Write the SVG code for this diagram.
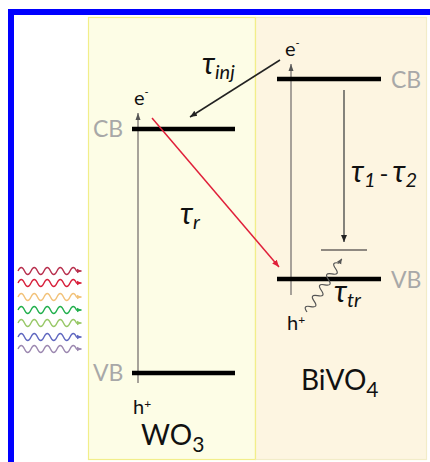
<svg xmlns="http://www.w3.org/2000/svg" width="430" height="462" viewBox="0 0 430 462">
<style>
text{font-family:Lato,"Open Sans","Liberation Sans",sans-serif}
.band{stroke:#000;stroke-width:4.5}
.axis{stroke:#8a8580;stroke-width:1.5;fill:none}
.gl{fill:#a8a8a8;font-size:23px}
.lbl{fill:#111;font-size:20px}
.tau{fill:#111;font-size:30px;font-style:italic}
.sub{font-size:20px;font-style:italic}
.mat{fill:#111;font-size:28px}
.wave{fill:none;stroke-width:1.4}
</style>
<defs>
<marker id="ah" markerWidth="8" markerHeight="8" refX="7" refY="4" orient="auto" markerUnits="userSpaceOnUse"><path d="M0,1 L7,4 L0,7 Z" fill="#222"/></marker>
<marker id="ahg" markerWidth="8" markerHeight="8" refX="7" refY="4" orient="auto" markerUnits="userSpaceOnUse"><path d="M0,1.5 L7,4 L0,6.5 Z" fill="#555"/></marker>
<marker id="ahr" markerWidth="8" markerHeight="8" refX="7" refY="4" orient="auto" markerUnits="userSpaceOnUse"><path d="M0,1 L7,4 L0,7 Z" fill="#e0203a"/></marker>
<marker id="ahw" markerWidth="6" markerHeight="6" refX="5" refY="3" orient="auto" markerUnits="userSpaceOnUse"><path d="M0,0.5 L5,3 L0,5.5 Z" fill="context-stroke"/></marker>
</defs>
<rect width="430" height="462" fill="#fff"/>
<!-- blue frame -->
<path d="M11,462 V12 H430" fill="none" stroke="#0000ff" stroke-width="6"/>
<!-- panels -->
<g id="wo3-panel"><rect x="88.5" y="17.5" width="167" height="442" fill="#fdfde6" stroke="#f2ee8a" stroke-width="1.2"/></g>
<g id="bivo4-panel"><rect x="255.5" y="17.5" width="171" height="442" fill="#fdf5e1" stroke="#f2ecc8" stroke-width="1.2"/><line x1="255.5" y1="17.5" x2="255.5" y2="459.5" stroke="#f2ee8a" stroke-width="1.2"/></g>
<!-- WO3 -->
<g id="wo3">
<line class="axis" x1="138" y1="383" x2="138" y2="113" marker-end="url(#ahg)"/>
<line class="band" x1="132" y1="129" x2="235" y2="129"/>
<line class="band" x1="132" y1="373" x2="235" y2="373"/>
<text class="gl" x="93" y="137">CB</text>
<text class="gl" x="93" y="381">VB</text>
<text class="lbl" x="134" y="105">e<tspan font-size="11" dy="-9">-</tspan></text>
<text class="lbl" x="133" y="414">h<tspan font-size="12" dy="-6">+</tspan></text>
<text class="mat" x="141" y="445">WO<tspan font-size="21" dy="7">3</tspan></text>
</g>
<!-- BiVO4 -->
<g id="bivo4">
<line class="axis" x1="291" y1="295" x2="291" y2="64" marker-end="url(#ahg)"/>
<line class="band" x1="277" y1="79" x2="381" y2="79"/>
<line class="band" x1="277" y1="279" x2="381" y2="279"/>
<line x1="321" y1="250" x2="367" y2="250" stroke="#6a6560" stroke-width="1.5"/>
<text class="gl" x="391" y="88">CB</text>
<text class="gl" x="391" y="288">VB</text>
<text class="lbl" x="285" y="56">e<tspan font-size="11" dy="-9">-</tspan></text>
<text class="lbl" x="287" y="330">h<tspan font-size="12" dy="-6">+</tspan></text>
<text class="mat" x="301" y="390">BiVO<tspan font-size="21" dy="7">4</tspan></text>
</g>
<!-- connectors -->
<g id="connectors">
<line x1="280" y1="60" x2="190" y2="117" stroke="#222" stroke-width="1.5" marker-end="url(#ah)"/>
<line x1="152" y1="118" x2="279" y2="267" stroke="#e0203a" stroke-width="1.5" marker-end="url(#ahr)"/>
<line x1="344" y1="90" x2="344" y2="242" stroke="#444" stroke-width="1.3" marker-end="url(#ah)"/>
<g transform="translate(307,312) rotate(-56.8)">
<path d="M0,0 q3.25,-8 6.5,0 t6.5,0 t6.5,0 t6.5,0 t6.5,0 t6.5,0 t6.5,0 t6.5,0 t6.5,0 l5,0" fill="none" stroke="#555" stroke-width="1.2" marker-end="url(#ahw)"/>
</g>
</g>
<!-- tau labels -->
<g id="labels">
<text class="tau" x="202" y="74">τ<tspan class="sub" dy="5">inj</tspan></text>
<text class="tau" x="180" y="224">τ<tspan class="sub" dy="5">r</tspan></text>
<text class="tau" x="351" y="182">τ<tspan class="sub" dy="5">1</tspan><tspan dy="-5" dx="4" font-style="normal" font-size="24">-</tspan><tspan dx="4">τ</tspan><tspan class="sub" dy="5">2</tspan></text>
<text class="tau" x="334" y="302">τ<tspan class="sub" dy="5">tr</tspan></text>
</g>
<!-- light waves -->
<g id="light">
<path class="wave" stroke="#b8304e" marker-end="url(#ahw)" d="M18,271 q3.25,-7 6.5,0 t6.5,0 t6.5,0 t6.5,0 t6.5,0 t6.5,0 t6.5,0 t6.5,0 t6.5,0 l5,0"/>
<path class="wave" stroke="#d8203c" marker-end="url(#ahw)" d="M18,283 q3.25,-7 6.5,0 t6.5,0 t6.5,0 t6.5,0 t6.5,0 t6.5,0 t6.5,0 t6.5,0 t6.5,0 l5,0"/>
<path class="wave" stroke="#f2c27a" marker-end="url(#ahw)" d="M18,297 q3.25,-7 6.5,0 t6.5,0 t6.5,0 t6.5,0 t6.5,0 t6.5,0 t6.5,0 t6.5,0 t6.5,0 l5,0"/>
<path class="wave" stroke="#22b04e" marker-end="url(#ahw)" d="M18,310 q3.25,-7 6.5,0 t6.5,0 t6.5,0 t6.5,0 t6.5,0 t6.5,0 t6.5,0 t6.5,0 t6.5,0 l5,0"/>
<path class="wave" stroke="#98c868" marker-end="url(#ahw)" d="M18,323 q3.25,-7 6.5,0 t6.5,0 t6.5,0 t6.5,0 t6.5,0 t6.5,0 t6.5,0 t6.5,0 t6.5,0 l5,0"/>
<path class="wave" stroke="#6068c0" marker-end="url(#ahw)" d="M18,337 q3.25,-7 6.5,0 t6.5,0 t6.5,0 t6.5,0 t6.5,0 t6.5,0 t6.5,0 t6.5,0 t6.5,0 l5,0"/>
<path class="wave" stroke="#9c88b0" marker-end="url(#ahw)" d="M18,349 q3.25,-7 6.5,0 t6.5,0 t6.5,0 t6.5,0 t6.5,0 t6.5,0 t6.5,0 t6.5,0 t6.5,0 l5,0"/>
</g>
</svg>
